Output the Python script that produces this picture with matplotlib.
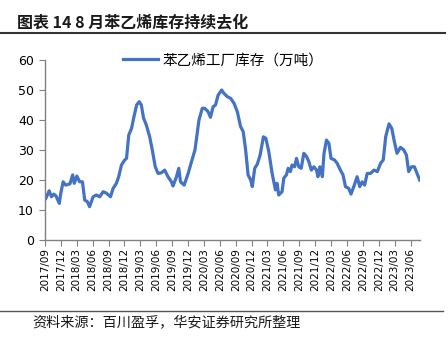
import matplotlib
matplotlib.use('Agg')
import matplotlib.pyplot as plt
import matplotlib.dates as mdates
import pandas as pd

plt.rcParams['font.family'] = ['Noto Sans CJK SC', 'DejaVu Sans']

# 苯乙烯工厂库存（万吨），读图估计
dates = [
    '2017-09-06', '2017-09-25', '2017-10-08', '2017-10-22', '2017-11-03', '2017-11-22',
    '2017-12-01', '2017-12-14', '2017-12-28', '2018-01-22', '2018-02-07', '2018-02-16',
    '2018-03-03', '2018-03-19', '2018-04-04', '2018-04-17', '2018-05-02', '2018-05-15',
    '2018-06-04', '2018-06-23', '2018-07-12', '2018-08-01', '2018-08-20', '2018-09-12',
    '2018-09-27', '2018-10-16', '2018-10-29', '2018-11-14', '2018-12-03', '2018-12-13',
    '2018-12-26', '2019-01-11', '2019-01-24', '2019-02-09', '2019-02-24', '2019-03-08',
    '2019-03-21', '2019-04-06', '2019-04-25', '2019-05-10', '2019-05-27', '2019-06-12',
    '2019-07-01', '2019-07-20', '2019-08-08', '2019-08-28', '2019-09-06', '2019-09-26',
    '2019-10-09', '2019-10-19', '2019-11-09', '2019-12-02', '2019-12-21', '2020-01-10',
    '2020-01-23', '2020-02-02', '2020-02-21', '2020-03-06', '2020-03-25', '2020-04-08',
    '2020-04-23', '2020-05-07', '2020-05-22', '2020-06-11', '2020-06-24', '2020-07-13',
    '2020-08-02', '2020-08-21', '2020-09-09', '2020-09-28', '2020-10-13', '2020-10-27',
    '2020-11-10', '2020-11-25', '2020-12-04', '2020-12-18', '2021-01-02', '2021-01-18',
    '2021-02-06', '2021-02-20', '2021-03-09', '2021-03-28', '2021-04-16', '2021-04-25',
    '2021-05-05', '2021-05-24', '2021-06-03', '2021-06-18', '2021-06-28', '2021-07-11',
    '2021-07-20', '2021-08-04', '2021-08-15', '2021-08-28', '2021-09-11', '2021-09-26',
    '2021-10-12', '2021-10-25', '2021-11-08', '2021-11-23', '2021-12-08', '2021-12-16',
    '2021-12-27', '2022-01-10', '2022-01-20', '2022-02-03', '2022-02-17', '2022-03-01',
    '2022-03-21', '2022-04-05', '2022-04-24', '2022-05-09', '2022-05-23', '2022-06-11',
    '2022-06-24', '2022-07-10', '2022-07-29', '2022-08-13', '2022-08-27', '2022-09-10',
    '2022-09-25', '2022-10-14', '2022-11-03', '2022-11-22', '2022-12-11', '2022-12-26',
    '2023-01-09', '2023-01-28', '2023-02-13', '2023-02-26', '2023-03-15', '2023-04-04',
    '2023-04-23', '2023-05-08', '2023-05-21', '2023-06-06', '2023-06-23', '2023-07-08',
    '2023-07-23',
]
stock = [
    13.9, 16.4, 14.4, 15.3, 14.7, 12.2,
    15.7, 19.4, 18.3, 18.7, 21.7, 18.9,
    21.3, 19.4, 19.4, 13.3, 12.8, 11.1,
    14.4, 15.0, 14.4, 16.1, 15.6, 14.4,
    17.2, 18.9, 21.1, 25.0, 26.7, 27.2,
    35.0, 37.2, 40.9, 45.0, 46.1, 45.0,
    40.6, 38.3, 34.4, 30.0, 24.4, 22.2,
    22.4, 23.3, 21.1, 19.4, 18.0, 21.1,
    23.9, 19.4, 18.3, 22.2, 26.1, 30.0,
    35.6, 40.0, 43.9, 43.9, 42.8, 40.9,
    44.4, 45.0, 48.3, 50.0, 48.9, 47.8,
    47.2, 45.6, 42.8, 37.8, 36.1, 30.0,
    21.7, 20.0, 17.8, 23.9, 25.3, 28.3,
    34.4, 33.9, 29.4, 22.2, 16.7, 18.9,
    15.0, 16.1, 20.6, 21.7, 23.9, 22.8,
    25.0, 24.4, 27.2, 24.4, 23.9, 28.9,
    27.8, 26.1, 23.3, 24.4, 23.3, 21.1,
    24.4, 21.1, 28.9, 33.3, 32.2, 27.2,
    26.7, 25.6, 23.3, 21.7, 17.8, 17.2,
    15.3, 17.8, 21.1, 17.8, 19.4, 18.3,
    22.2, 22.2, 23.3, 22.8, 25.6, 26.7,
    34.4, 38.7, 37.2, 33.3, 28.9, 30.9,
    30.0, 28.3, 22.8, 24.4, 24.4, 22.2,
    20.0,
]
tick_dates = pd.date_range('2017-09-01', '2023-06-01', freq='3MS')

df = pd.DataFrame({'date': pd.to_datetime(dates), 'stock': stock})

fig = plt.figure(figsize=(4.48, 3.46), dpi=100)
ax = fig.add_axes([45 / 448, 106 / 346, 375 / 448, 180 / 346])

ax.plot(df['date'], df['stock'], color='#4472C4', linewidth=2.3,
        label='苯乙烯工厂库存（万吨）')

ax.set_ylim(0, 60)
ax.set_yticks(range(0, 61, 10))
ax.set_xlim(pd.Timestamp('2017-09-01'), pd.Timestamp('2023-07-25'))
ax.set_xticks(tick_dates)
ax.xaxis.set_major_formatter(mdates.DateFormatter('%Y/%m'))
ax.tick_params(axis='x', labelrotation=90, labelsize=7.5, length=4, color='#808080', pad=2)
ax.tick_params(axis='y', labelsize=9, length=4, color='#808080', pad=4)
for lbl in ax.get_xticklabels() + ax.get_yticklabels():
    lbl.set_family(['DejaVu Sans'])

for s in ['top', 'right']:
    ax.spines[s].set_visible(False)
for s in ['left', 'bottom']:
    ax.spines[s].set_color('#808080')
    ax.spines[s].set_linewidth(1)

ax.legend(loc='upper center', bbox_to_anchor=(0.475, 1.11), frameon=False,
          fontsize=10.5, handlelength=2.4, handletextpad=0.3)

# title, rules and source
fig.text(17 / 448, 1 - 22 / 346, '图表 14 8 月苯乙烯库存持续去化', fontsize=11.5,
         fontweight='bold', va='center', ha='left', color='#1a1a1a')
fig.add_artist(plt.Line2D([0, 445 / 448], [1 - 33 / 346] * 2, color='#333333', linewidth=1.5))
fig.add_artist(plt.Line2D([0, 443 / 448], [1 - 311 / 346] * 2, color='#555555', linewidth=1))
fig.text(32 / 448, 1 - 323 / 346, '资料来源：百川盈孚，华安证券研究所整理', fontsize=10.2,
         va='center', ha='left', color='#1a1a1a')

fig.savefig('out.png', dpi=100)
